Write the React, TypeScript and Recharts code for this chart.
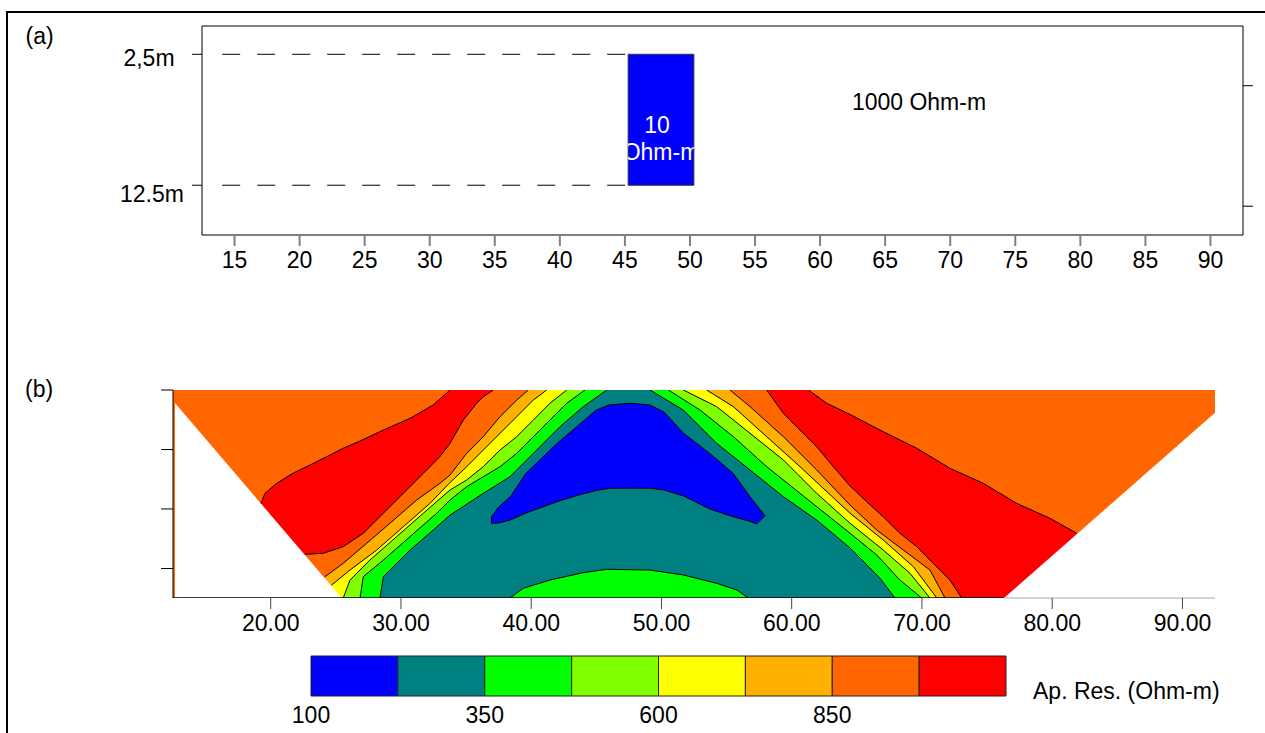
import React from "react";
import {
  Area,
  ComposedChart,
  Line,
  ReferenceArea,
  ReferenceDot,
  ReferenceLine,
  XAxis,
  YAxis,
} from "recharts";

const FONT = "'Liberation Sans', Arial, Helvetica, sans-serif";

// colours of the resistivity classes (100 .. 1100 Ohm-m, step 125)
const BLUE = "#0000ff";
const TEAL = "#008080";
const GREEN = "#00ff00";
const LIME = "#80ff00";
const YELLOW = "#ffff00";
const AMBER = "#ffb000";
const ORANGE = "#ff6600";
const RED = "#ff0000";

// ---------- panel (a): model ----------
const modelTicks = [15, 20, 25, 30, 35, 40, 45, 50, 55, 60, 65, 70, 75, 80, 85, 90];
const depthTicks = [2.5, 12.5];
const depthLabels = ["2,5m", "12.5m"];
const rightTicks = [4.9, 14.1];
const blockX = [45.25, 50.3];
const guideStartX = 14.05;

// ---------- panel (b): pseudo-section, contour boundaries [x, depth] ----------
const sectionTicks = [20, 30, 40, 50, 60, 70, 80, 90];
const sectionDepthTicks = [0, 4.58, 9.15, 13.73];
const SECTION_BOTTOM = 16;

const c975OuterLeft = [[19.26, 8.72], [19.56, 7.95], [20.46, 7.18], [21.74, 6.39], [23.02, 5.77], [24.3, 5.13], [25.57, 4.48], [26.86, 3.92], [28.65, 3.08], [30.7, 2.18], [32.48, 1.15], [33.77, 0]];
const c975OuterRight = [[61.28, 0], [62.69, 1.02], [64.48, 1.88], [67.03, 3.21], [69.6, 4.48], [72.15, 6.02], [74.71, 7.18], [77.28, 8.72], [79.83, 9.87], [81.88, 11.02]];
const c975InnerLeft = [[22.63, 12.64], [24.04, 12.56], [25.57, 12.05], [27.11, 11.02], [28.65, 9.48], [30.18, 7.95], [31.72, 6.41], [32.99, 5.13], [33.77, 4.1], [34.79, 2.31], [35.82, 1.02], [36.32, 0.52], [37.09, 0]];
const c975InnerRight = [[58.08, 0], [59.36, 1.79], [60.64, 3.08], [61.92, 4.36], [63.2, 5.9], [64.48, 7.38], [65.76, 8.59], [67.03, 9.75], [68.31, 11.02], [69.6, 12.05], [70.87, 13.33], [72.15, 14.62], [73.05, 16]];
const c850Left = [[24.17, 14.36], [25.57, 13.33], [27.37, 11.79], [29.16, 10.25], [31.21, 8.46], [32.99, 7.18], [33.77, 6.54], [35.05, 4.87], [36.32, 3.59], [37.61, 2.05], [38.89, 0.77], [39.78, 0]];
const c850Right = [[55.26, 0], [56.8, 1.28], [59.36, 3.59], [61.92, 6.15], [64.48, 8.85], [66.53, 10.77], [68.57, 12.31], [70.62, 13.85], [71.77, 16]];
const c725Left = [[24.68, 15.0], [26.09, 13.85], [28.14, 12.31], [30.18, 10.52], [32.23, 8.72], [33.77, 7.12], [35.05, 5.9], [36.32, 4.62], [37.61, 3.33], [38.89, 2.05], [40.17, 0.77], [41.19, 0]];
const c725Right = [[53.47, 0], [55.52, 1.28], [58.08, 3.59], [60.64, 5.9], [64.48, 9.48], [67.03, 11.54], [69.34, 13.59], [71.14, 16]];
const c600Left = [[25.57, 16], [26.09, 14.62], [27.62, 13.08], [29.67, 11.28], [31.72, 9.48], [33.77, 7.69], [35.05, 6.92], [36.32, 5.9], [37.61, 4.62], [38.89, 3.59], [40.17, 2.31], [41.44, 1.02], [42.73, 0]];
const c600Right = [[51.68, 0], [54.24, 1.28], [56.8, 3.33], [59.36, 5.38], [61.92, 7.95], [64.48, 10.25], [67.03, 12.31], [69.08, 14.1], [70.62, 16]];
const c475Left = [[26.86, 16], [27.11, 14.36], [28.65, 13.08], [30.7, 11.28], [32.75, 9.48], [33.77, 8.46], [35.05, 7.44], [36.32, 6.67], [37.61, 5.9], [38.89, 4.87], [40.17, 3.59], [41.44, 2.31], [42.73, 1.02], [44.13, 0]];
const c475Right = [[50.53, 0], [52.96, 1.54], [55.52, 3.59], [58.08, 5.9], [60.64, 7.95], [64.48, 11.02], [66.53, 12.69], [68.31, 14.62], [69.98, 16]];
const c350Left = [[28.39, 16], [28.65, 14.36], [30.7, 12.31], [32.48, 10.77], [33.77, 9.62], [36.32, 7.95], [38.37, 6.67], [40.17, 4.87], [42.21, 2.82], [44.0, 1.28], [45.8, 0]];
const c350Right = [[49.12, 0], [51.68, 1.54], [54.24, 4.1], [56.8, 6.15], [59.36, 8.21], [61.92, 10.0], [64.48, 12.15], [66.78, 14.48], [67.93, 16]];
// low-resistivity lobe: [x, top depth, bottom depth]
const c225Lobe = [[36.95, 9.75, 10.25], [37.5, 9.0, 10.23], [38.4, 8.21, 10.0], [39.6, 6.41, 9.46], [42.0, 4.1, 8.59], [43.5, 2.82, 8.12], [45.0, 1.54, 7.73], [46.0, 1.15, 7.56], [47.6, 1.02, 7.55], [49.1, 1.15, 7.56], [50.2, 1.7, 7.69], [51.7, 3.33, 8.15], [53.7, 4.87, 9.15], [55.5, 6.41, 9.75], [56.8, 8.21, 10.1], [57.3, 8.85, 10.31], [57.95, 9.67, 9.67]];
const c350Bump = [[38.37, 16], [39.4, 15.25], [41.44, 14.62], [44.0, 14.05], [45.8, 13.79], [49.12, 13.85], [51.68, 14.23], [54.24, 14.87], [55.78, 15.38], [56.67, 16]];
// no-data wedges of the pseudo-section
const leftBlank = [[12.65, 1.0], [25.45, 16]];
const rightBlank = [[76.3, 16], [92.5, 1.75]];
const sectionBase = [[12.5, 16], [76.3, 16]];

// ---------- colour scale ----------
const binEdges = [100, 225, 350, 475, 600, 725, 850, 975, 1100];
const binColors = [BLUE, TEAL, GREEN, LIME, YELLOW, AMBER, ORANGE, RED];
const scaleTicks = [100, 350, 600, 850];

const bands = [
  { left: c975OuterLeft, right: c975OuterRight, fill: RED },
  { left: c975InnerLeft, right: c975InnerRight, fill: ORANGE },
  { left: c850Left, right: c850Right, fill: AMBER },
  { left: c725Left, right: c725Right, fill: YELLOW },
  { left: c600Left, right: c600Right, fill: LIME },
  { left: c475Left, right: c475Right, fill: GREEN },
  { left: c350Left, right: c350Right, fill: TEAL },
];

const contourLines = [
  c975OuterLeft, c975OuterRight, c975InnerLeft, c975InnerRight,
  c850Left, c850Right, c725Left, c725Right, c600Left, c600Right,
  c475Left, c475Right, c350Left, c350Right, c350Bump,
];

const toRange = (pts: number[][]) =>
  pts.map(([x, d]) => ({ x, r: [d, SECTION_BOTTOM] }));
const toLine = (pts: number[][]) => pts.map(([x, d]) => ({ x, d }));

const lobeFill = c225Lobe.map(([x, t, b]) => ({ x, r: [t, b] }));
const lobeOutline = [
  ...c225Lobe.map(([x, t]) => ({ x, d: t })),
  ...c225Lobe.slice().reverse().map(([x, , b]) => ({ x, d: b })),
  { x: c225Lobe[0][0], d: c225Lobe[0][1] },
];

const TICK_TEXT = { fill: "#000", fontSize: 23 };

// tick marks without labels
const NoLabel = () => <g />;

function DepthTick(props: any) {
  const { x, y, index } = props;
  // hand-placed labels in the original figure
  const dx = [-41, -38][index] ?? -40;
  const dy = [11.4, 16.4][index] ?? 8;
  return (
    <text x={x + dx} y={y + dy} textAnchor="middle" fontSize={23} fill="#000">
      {depthLabels[index]}
    </text>
  );
}

function BlockLabel(props: any) {
  const { x, y, width, height } = props.viewBox;
  return (
    <g>
      <defs>
        <clipPath id="block-clip">
          <rect x={x} y={y} width={width} height={height} />
        </clipPath>
      </defs>
      <text clipPath="url(#block-clip)" fill="#fff" fontSize={23} textAnchor="middle">
        <tspan x={x + width / 2 - 4} y={y + height * 0.6}>10</tspan>
        <tspan x={x + width / 2} y={y + height * 0.81}>Ohm-m</tspan>
      </text>
    </g>
  );
}

function ModelPanel() {
  return (
    <ComposedChart width={1265} height={290} margin={{ top: 26, right: 0, bottom: 15, left: 142 }}>
      <XAxis
        type="number"
        dataKey="x"
        domain={[12.5, 92.5]}
        allowDataOverflow
        ticks={modelTicks}
        interval={0}
        stroke="#808080"
        strokeWidth={2}
        tickSize={11}
        tickMargin={6}
        height={40}
        tick={TICK_TEXT}
      />
      <YAxis
        yAxisId="left"
        type="number"
        domain={[0.34, 16.3]}
        reversed
        allowDataOverflow
        ticks={depthTicks}
        interval={0}
        width={60}
        tickSize={10}
        stroke="#000"
        tick={<DepthTick />}
      />
      <YAxis
        yAxisId="right"
        orientation="right"
        type="number"
        domain={[0.34, 16.3]}
        reversed
        allowDataOverflow
        ticks={rightTicks}
        interval={0}
        width={22}
        tickSize={10}
        stroke="#000"
        tick={<NoLabel />}
      />
      <ReferenceLine yAxisId="left" y={0.34} stroke="#000" />
      <ReferenceArea
        yAxisId="left"
        x1={blockX[0]}
        x2={blockX[1]}
        y1={depthTicks[0]}
        y2={depthTicks[1]}
        fill={BLUE}
        fillOpacity={1}
        stroke="#333"
        label={<BlockLabel />}
      />
      {depthTicks.map((d) => (
        <Line
          key={d}
          yAxisId="left"
          data={[{ x: guideStartX, d }, { x: blockX[0], d }]}
          dataKey="d"
          type="linear"
          stroke="#000"
          strokeWidth={1}
          strokeDasharray="18 17"
          dot={false}
          activeDot={false}
          isAnimationActive={false}
        />
      ))}
      <ReferenceDot
        yAxisId="left"
        x={67.6}
        y={6.12}
        r={1}
        fill="none"
        stroke="none"
        label={{ value: "1000 Ohm-m", position: "center", fill: "#000", fontSize: 23 }}
      />
    </ComposedChart>
  );
}

function SectionPanel() {
  return (
    <ComposedChart width={1265} height={300} margin={{ top: 30, right: 50, bottom: 17, left: 133 }}>
      <XAxis
        type="number"
        dataKey="x"
        domain={[12.5, 92.5]}
        allowDataOverflow
        ticks={sectionTicks}
        interval={0}
        tickFormatter={(v: number) => v.toFixed(2)}
        axisLine={false}
        tickLine={{ stroke: "#444" }}
        tickSize={11}
        tickMargin={6}
        height={45}
        tick={TICK_TEXT}
      />
      <YAxis
        type="number"
        domain={[0, SECTION_BOTTOM]}
        reversed
        allowDataOverflow
        ticks={sectionDepthTicks}
        interval={0}
        width={40}
        tickSize={12}
        stroke="#000"
        tick={<NoLabel />}
      />
      <Area
        data={toRange([[12.5, 0], [92.5, 0]])}
        dataKey="r"
        type="linear"
        fill={ORANGE}
        fillOpacity={1}
        stroke="none"
        dot={false}
        activeDot={false}
        isAnimationActive={false}
      />
      {bands.map((b, i) => (
        <Area
          key={`band-${i}`}
          data={toRange([...b.left, ...b.right])}
          dataKey="r"
          type="linear"
          fill={b.fill}
          fillOpacity={1}
          stroke="none"
          dot={false}
          activeDot={false}
          isAnimationActive={false}
        />
      ))}
      <Area
        data={lobeFill}
        dataKey="r"
        type="linear"
        fill={BLUE}
        fillOpacity={1}
        stroke="none"
        dot={false}
        activeDot={false}
        isAnimationActive={false}
      />
      <Area
        data={toRange(c350Bump)}
        dataKey="r"
        type="linear"
        fill={GREEN}
        fillOpacity={1}
        stroke="none"
        dot={false}
        activeDot={false}
        isAnimationActive={false}
      />
      {[leftBlank, rightBlank].map((w, i) => (
        <Area
          key={`blank-${i}`}
          data={toRange(w)}
          dataKey="r"
          type="linear"
          fill="#fff"
          fillOpacity={1}
          stroke="none"
          dot={false}
          activeDot={false}
          isAnimationActive={false}
        />
      ))}
      {contourLines.map((c, i) => (
        <Line
          key={`c-${i}`}
          data={toLine(c)}
          dataKey="d"
          type="linear"
          stroke="#000"
          strokeWidth={1}
          dot={false}
          activeDot={false}
          isAnimationActive={false}
        />
      ))}
      <Line
        data={lobeOutline}
        dataKey="d"
        type="linear"
        stroke="#000"
        strokeWidth={1}
        dot={false}
        activeDot={false}
        isAnimationActive={false}
      />
      <Line
        data={toLine(sectionBase)}
        dataKey="d"
        type="linear"
        stroke="#000"
        strokeWidth={1.5}
        dot={false}
        activeDot={false}
        isAnimationActive={false}
      />
      <ReferenceLine
        segment={[{ x: sectionBase[1][0], y: SECTION_BOTTOM }, { x: 92.5, y: SECTION_BOTTOM }]}
        stroke="#c4c4c4"
        strokeWidth={1.5}
      />
    </ComposedChart>
  );
}

function ColorScale() {
  return (
    <ComposedChart width={1265} height={93} margin={{ top: 16, right: 259, bottom: 0, left: 311 }}>
      <XAxis
        type="number"
        dataKey="x"
        domain={[binEdges[0], binEdges[binEdges.length - 1]]}
        allowDataOverflow
        ticks={scaleTicks}
        interval={0}
        axisLine={false}
        tickLine={false}
        tickSize={6}
        tickMargin={5}
        height={37}
        tick={TICK_TEXT}
      />
      <YAxis type="number" domain={[0, 1]} allowDataOverflow hide />
      {binColors.map((c, i) => (
        <ReferenceArea
          key={c}
          x1={binEdges[i]}
          x2={binEdges[i + 1]}
          y1={0}
          y2={1}
          fill={c}
          fillOpacity={1}
          stroke="#222"
          strokeWidth={1}
        />
      ))}
    </ComposedChart>
  );
}

export default function App() {
  const text: React.CSSProperties = { position: "absolute", fontSize: 23, lineHeight: "23px", color: "#000", whiteSpace: "nowrap" };
  return (
    <div
      style={{
        position: "absolute",
        left: 0,
        top: 0,
        width: 1265,
        height: 733,
        overflow: "hidden",
        background: "#fff",
        fontFamily: FONT,
      }}
    >
      <div
        style={{
          position: "absolute",
          left: 6,
          top: 11,
          width: 1400,
          height: 900,
          borderTop: "2px solid #000",
          borderLeft: "2px solid #000",
        }}
      />
      <div style={{ position: "absolute", left: 0, top: 0 }}>
        <ModelPanel />
      </div>
      <div style={{ position: "absolute", left: 0, top: 360 }}>
        <SectionPanel />
      </div>
      <div style={{ position: "absolute", left: 0, top: 640 }}>
        <ColorScale />
      </div>
      <div style={{ ...text, left: 25.5, top: 24.5 }}>(a)</div>
      <div style={{ ...text, left: 25, top: 377.5 }}>(b)</div>
      <div style={{ ...text, left: 1033, top: 680 }}>Ap. Res. (Ohm-m)</div>
    </div>
  );
}
